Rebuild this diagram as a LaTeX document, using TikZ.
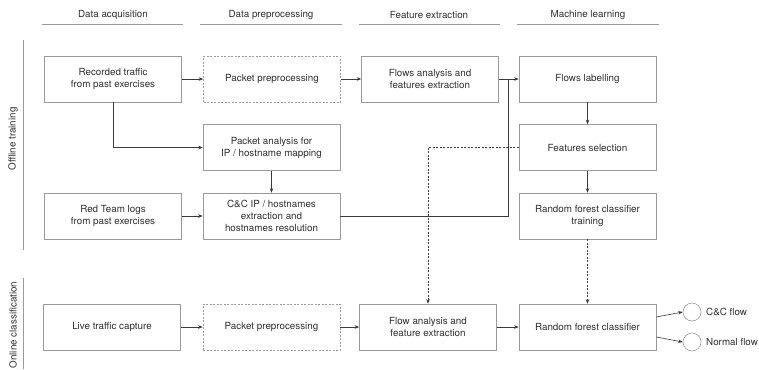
\documentclass[tikz,border=0pt]{standalone}
\usepackage{fontspec}
\setmainfont{TeX Gyre Heros}
\usetikzlibrary{arrows.meta}
\definecolor{txt}{HTML}{2E2E2E}
\definecolor{frame}{HTML}{9A9A9A}
\definecolor{conn}{HTML}{3A3A3A}
\begin{document}
\begin{tikzpicture}[x=1pt,y=-1pt,
  every node/.style={font=\fontsize{9.8}{12}\selectfont, text=txt},
  box/.style={draw=frame, line width=0.6pt, minimum width=137pt, minimum height=46pt, inner sep=0pt, align=center},
  dbox/.style={box, dashed, dash pattern=on 2pt off 1.5pt},
  arr/.style={draw=conn, line width=0.6pt, -{Stealth[length=4.5pt,width=3.5pt]}},
  darr/.style={arr, dash pattern=on 2pt off 1.5pt},
  hline/.style={draw=frame, line width=0.8pt},
  res/.style={draw=frame, circle, minimum size=18pt, inner sep=0pt, line width=0.6pt},
  head/.style={font=\fontsize{9.8}{12}\selectfont}
]
\useasboundingbox (0,0) rectangle (759,369);

% headers
\node[head] (h1) at (113,15) {Data acquisition};
\node[head] (h2) at (271,15) {Data preprocessing};
\node[head] (h3) at (429,15) {Feature extraction};
\node[head] (h4) at (588,15) {Machine learning};
\draw[hline] (42,24) -- (183,24);
\draw[hline] (200,24) -- (342,24);
\draw[hline] (359,24) -- (500,24);
\draw[hline] (517,24) -- (659,24);

% side labels
\draw[hline] (23,40) -- (23,250);
\draw[hline] (23,278) -- (23,369);
\node[head, rotate=90] (s1) at (13,139) {Offline training};
\node[head, rotate=90] (s2) at (13,325) {Online classification};

% boxes
\node[box]  (b1) at (113,79) {Recorded traffic\\from past exercises};
\node[dbox] (b2) at (272,79) {Packet preprocessing};
\node[box]  (b3) at (430,79) {Flows analysis and\\features extraction};
\node[box]  (b4) at (587.5,79) {Flows labelling};
\node[box]  (b5) at (271.5,147.5) {Packet analysis for\\IP / hostname mapping};
\node[box]  (b6) at (587.5,147.5) {Features selection};
\node[box]  (b7) at (113,216) {Red Team logs\\from past exercises};
\node[box]  (b8) at (271.5,216) {C\&C IP / hostnames\\extraction and\\hostnames resolution};
\node[box]  (b9) at (587.5,216) {Random forest classifier\\training};
\node[box]  (b10) at (112,327) {Live traffic capture};
\node[dbox] (b11) at (271.5,327) {Packet preprocessing};
\node[box]  (b12) at (428,327) {Flow analysis and\\feature extraction};
\node[box]  (b13) at (587.5,327) {Random forest classifier};

\node[res] (c1) at (692,312) {};
\node[res] (c2) at (692,342) {};
\node[anchor=west, inner sep=1pt] (l1) at (705,312) {C\&C flow};
\node[anchor=west, inner sep=1pt] (l2) at (705,342) {Normal flow};

% connectors
\draw[arr] (b1) -- (b2);
\draw[arr] (b2) -- (b3);
\draw[arr] (b3) -- (b4);
\draw[arr] (b1.south) |- (b5.west);
\draw[arr] (b5) -- (b8);
\draw[arr] (b7) -- (b8);
\coordinate (j1) at (508,216);
\coordinate (j2) at (508,79);
\draw[draw=conn, line width=0.6pt] (b8.east) -- (j1) -- (j2);
\draw[arr] (b4) -- (b6);
\draw[arr] (b6) -- (b9);
\draw[darr] (b6.west) -| (b12.north);
\draw[darr] (b9) -- (b13);
\draw[arr] (b10) -- (b11);
\draw[arr] (b11) -- (b12);
\draw[arr] (b12) -- (b13);
\draw[arr] ([yshift=10pt]b13.east) -- (c1.west);
\draw[arr] ([yshift=-10pt]b13.east) -- (c2.west);
\end{tikzpicture}
\end{document}
